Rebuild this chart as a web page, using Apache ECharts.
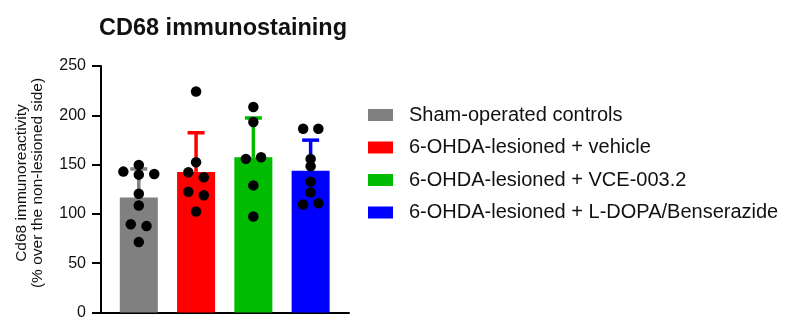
<!DOCTYPE html>
<html>
<head>
<meta charset="utf-8">
<script src="https://cdn.jsdelivr.net/npm/echarts@6/dist/echarts.min.js"></script>
<style>html,body{margin:0;padding:0;background:#fff;}#c{width:792px;height:335px;}</style>
</head>
<body>
<div id="c"></div>
<script>
const titleText = 'CD68 immunostaining';
const yName1 = 'Cd68 immunoreactivity';
const yName2 = '(% over the non-lesioned side)';
const categories = ['Sham-operated controls', '6-OHDA-lesioned + vehicle', '6-OHDA-lesioned + VCE-003.2', '6-OHDA-lesioned + L-DOPA/Benserazide'];
const colors = ['#808080', '#ff0000', '#00bb00', '#0000ff'];
const means = [116.6, 142.6, 157.4, 143.8];
const sds = [29.0, 39.7, 39.9, 31.0];
// individual animals: values and horizontal jitter (in category-band units)
const pointsSham = [142.9, 149.7, 140.5, 139.8, 120.4, 108.5, 89.5, 87.8, 71.4];
const jitterSham = [-0.27, 0, 0.27, 0, 0, 0, -0.14, 0.135, 0];
const pointsVehicle = [224.2, 152.3, 142.2, 137.1, 122.4, 119.0, 102.4];
const jitterVehicle = [0, 0, -0.135, 0.135, -0.135, 0.135, 0];
const pointsVCE = [208.5, 193.2, 155.8, 157.5, 128.9, 97.3];
const jitterVCE = [0, 0, -0.13, 0.135, 0, 0];
const pointsLDOPA = [186.4, 186.4, 155.8, 148.3, 132.7, 121.8, 109.5, 110.9];
const jitterLDOPA = [-0.13, 0.135, 0, 0, 0, 0, -0.13, 0.135];
const yTicks = [0, 50, 100, 150, 200, 250];

const allPoints = [pointsSham, pointsVehicle, pointsVCE, pointsLDOPA];
const allJitter = [jitterSham, jitterVehicle, jitterVCE, jitterLDOPA];

const chart = echarts.init(document.getElementById('c'), null, {renderer: 'canvas'});

const barSeries = categories.map((name, i) => ({
  name: name,
  type: 'bar',
  data: [[i, means[i]]],
  barWidth: 38,
  barGap: '-100%',
  itemStyle: {color: colors[i]},
  z: 2
}));

const errData = means.map((m, i) => [i, m, m + sds[i]]);
const errSeries = {
  type: 'custom',
  data: errData,
  z: 3,
  renderItem: function (params, api) {
    const i = api.value(0);
    const p0 = api.coord([i, api.value(1)]);
    const p1 = api.coord([i, api.value(2)]);
    const half = 8.5;
    const st = {stroke: colors[i], lineWidth: 3.5};
    return {
      type: 'group',
      children: [
        {type: 'line', shape: {x1: p0[0], y1: p0[1], x2: p1[0], y2: p1[1]}, style: st},
        {type: 'line', shape: {x1: p1[0] - half, y1: p1[1], x2: p1[0] + half, y2: p1[1]}, style: st}
      ]
    };
  }
};

const scatterData = [];
allPoints.forEach((arr, i) => arr.forEach((v, k) => scatterData.push([i + allJitter[i][k], v])));
const scatterSeries = {
  type: 'scatter',
  data: scatterData,
  symbolSize: 10.5,
  itemStyle: {color: '#000', opacity: 1},
  z: 5,
  silent: true
};

chart.setOption({
  animation: false,
  title: {
    text: titleText,
    left: 99,
    top: 16.5,
    padding: 0,
    textStyle: {fontFamily: 'Liberation Sans, Arial', fontWeight: 'bold', fontSize: 23.5, color: '#111'}
  },
  legend: {
    orient: 'vertical',
    left: 368,
    top: 105,
    padding: 0,
    itemWidth: 25,
    itemHeight: 12,
    itemGap: 12.5,
    icon: 'rect',
    data: categories,
    textStyle: {fontFamily: 'Liberation Sans, Arial', fontSize: 20, color: '#111', padding: [0, 0, 0, 11]}
  },
  grid: {left: 101, top: 66, right: 443, bottom: 22.5, containLabel: false},
  xAxis: {
    type: 'value',
    min: -0.66,
    max: 3.67,
    axisLine: {show: true, onZero: false, lineStyle: {color: '#000', width: 2}},
    axisTick: {show: false},
    axisLabel: {show: false},
    splitLine: {show: false}
  },
  yAxis: {
    type: 'value',
    min: yTicks[0],
    max: yTicks[yTicks.length - 1],
    interval: 50,
    axisLine: {show: true, onZero: false, lineStyle: {color: '#000', width: 2}},
    axisTick: {show: true, length: 9, lineStyle: {color: '#000', width: 2}},
    axisLabel: {fontFamily: 'Liberation Sans, Arial', fontSize: 16, color: '#111', margin: 15},
    splitLine: {show: false}
  },
  graphic: [{
    type: 'text',
    x: 30,
    y: 183,
    rotation: Math.PI / 2,
    style: {
      text: yName1 + '\n' + yName2,
      fontFamily: 'Liberation Sans, Arial',
      fontSize: 15.5,
      lineHeight: 16,
      fill: '#111',
      align: 'center',
      verticalAlign: 'middle'
    }
  }],
  series: [...barSeries, errSeries, scatterSeries]
});
</script>
</body>
</html>
